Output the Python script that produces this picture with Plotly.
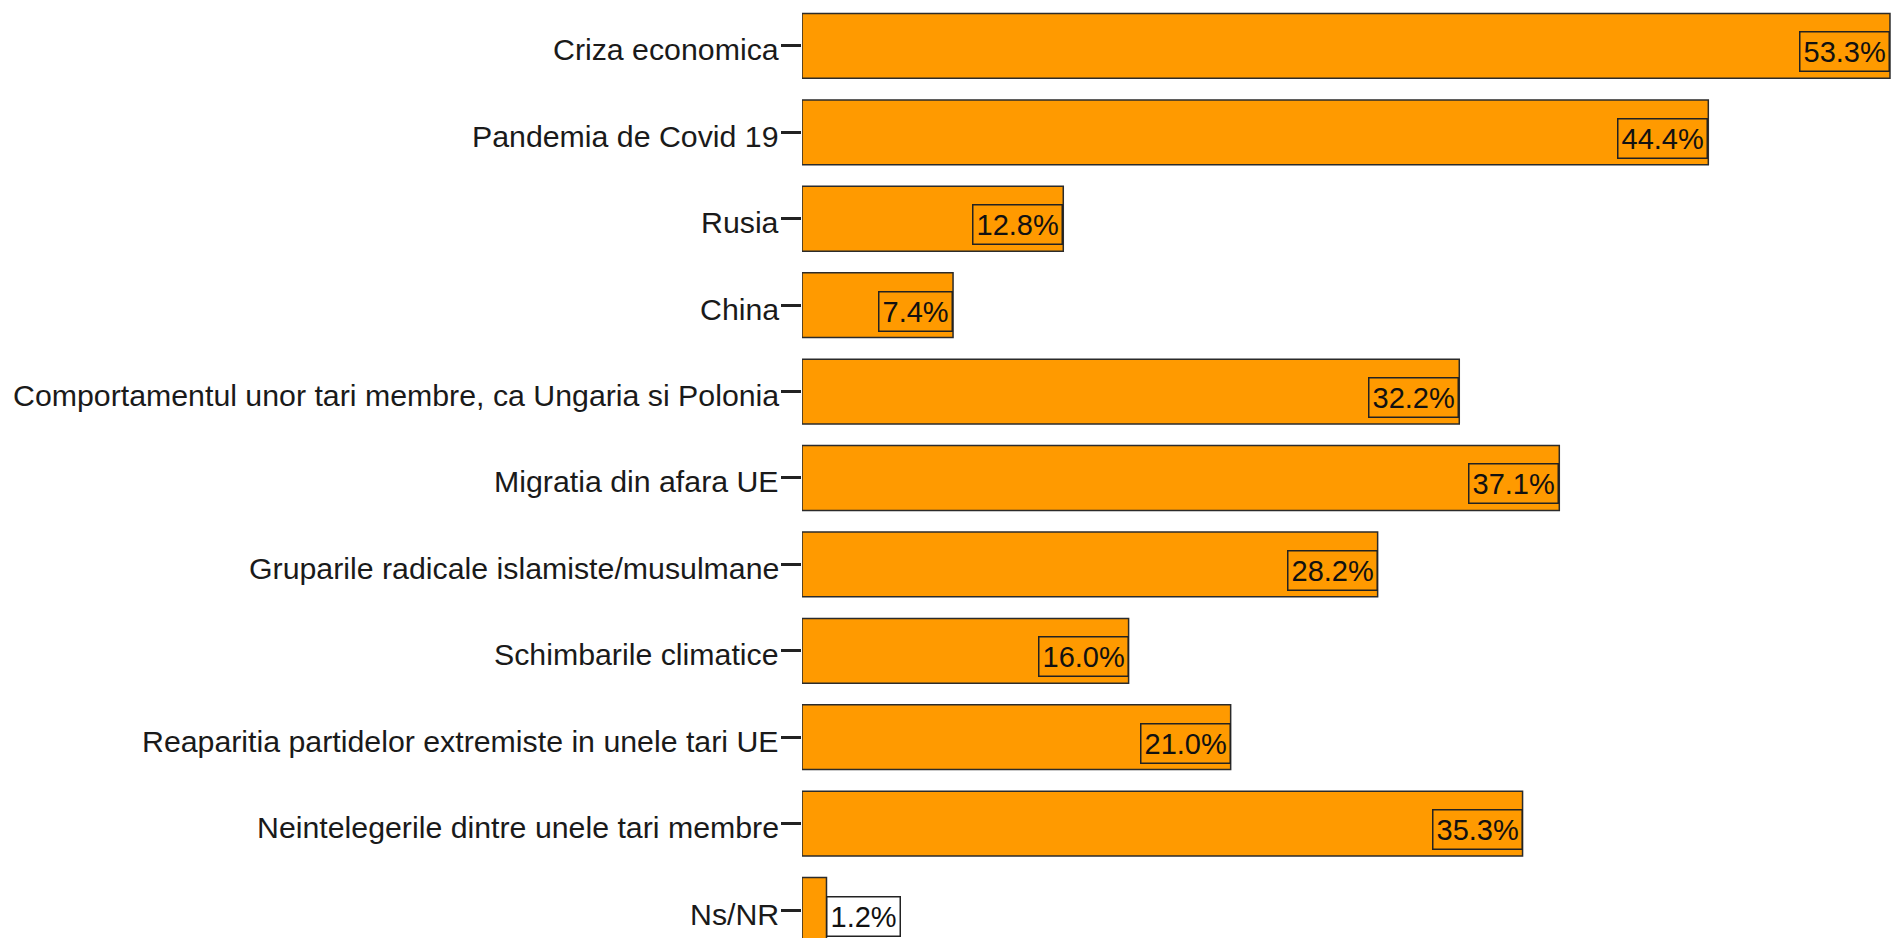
import plotly.graph_objects as go

categories = [
    "Criza economica",
    "Pandemia de Covid 19",
    "Rusia",
    "China",
    "Comportamentul unor tari membre, ca Ungaria si Polonia",
    "Migratia din afara UE",
    "Gruparile radicale islamiste/musulmane",
    "Schimbarile climatice",
    "Reaparitia partidelor extremiste in unele tari UE",
    "Neintelegerile dintre unele tari membre",
    "Ns/NR",
]
values = [53.3, 44.4, 12.8, 7.4, 32.2, 37.1, 28.2, 16.0, 21.0, 35.3, 1.2]
labels = [f"{v:.1f}%" for v in values]

font = "Liberation Sans, Arial, sans-serif"

fig = go.Figure(
    go.Bar(
        x=values,
        y=categories,
        orientation="h",
        width=0.75,
        marker=dict(color="#FF9A00", line=dict(color="#2b2b2b", width=1.5)),
        hoverinfo="skip",
    )
)

# category names, drawn as annotations so they can sit a bit below the tick
for cat in categories:
    fig.add_annotation(
        x=0, xref="paper", y=cat, text=cat, showarrow=False,
        xanchor="right", xshift=-21, yshift=-4,
        font=dict(family=font, size=30.3, color="#1a1a1a"),
    )

# value boxes at the end of each bar; the small one sits outside
for cat, v, lab in zip(categories, values, labels):
    inside = v > 5
    fig.add_annotation(
        x=v, y=cat, text=lab, showarrow=False,
        xanchor="right" if inside else "left",
        yshift=-6,
        font=dict(family=font, size=29, color="#111"),
        bordercolor="#222", borderwidth=1.5, borderpad=3,
        bgcolor="rgba(0,0,0,0)" if inside else "white",
    )

fig.update_layout(
    width=1891, height=938,
    margin=dict(l=802, r=0, t=0, b=0),
    plot_bgcolor="white", paper_bgcolor="white",
    showlegend=False,
    font=dict(family=font, size=30, color="#1a1a1a"),
)
fig.update_xaxes(range=[0, 53.35], visible=False, showgrid=False)
fig.update_yaxes(
    type="category", categoryorder="array", categoryarray=categories,
    range=[10.324, -0.532],
    showline=False, showgrid=False, zeroline=False,
    showticklabels=False,
    ticks="outside", ticklen=20, tickwidth=2.5, tickcolor="#222",
)

fig.write_html(
    "out.html",
    config={"displayModeBar": False},
    post_script="document.body.style.margin='0';document.body.style.overflow='hidden';",
)
